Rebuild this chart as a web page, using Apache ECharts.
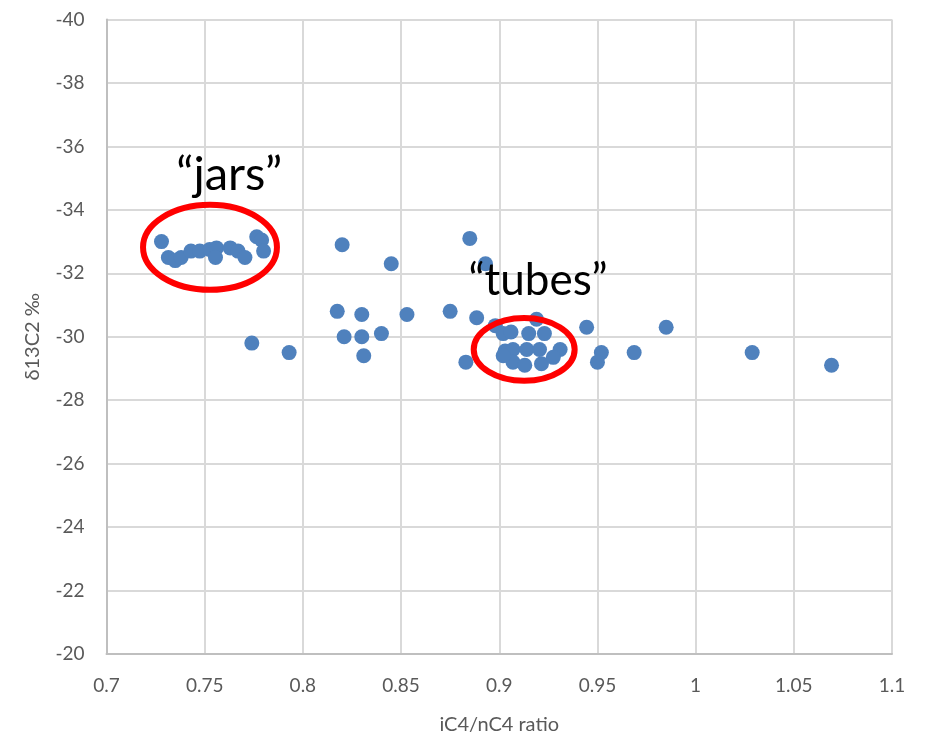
<!DOCTYPE html>
<html>
<head>
<meta charset="utf-8">
<script src="https://cdn.jsdelivr.net/npm/echarts@6/dist/echarts.min.js"></script>
<style>html,body{margin:0;padding:0;background:#fff}#c{width:926px;height:740px}</style>
</head>
<body>
<div id="c"></div>
<script>
// iC4/nC4 ratio values
const ratioValues = [
  0.728, 0.7315, 0.735, 0.738, 0.743, 0.7475, 0.7525, 0.756, 0.7555, 0.763, 0.767, 0.7705, 0.7765, 0.779, 0.780,
  0.820, 0.845, 0.885, 0.893,
  0.8175, 0.830, 0.853, 0.875, 0.8885, 0.898, 0.919, 0.9445,
  0.821, 0.830, 0.840, 0.831, 0.883, 0.774, 0.793,
  0.902, 0.906, 0.915, 0.923,
  0.903, 0.907, 0.914, 0.9205, 0.931,
  0.907, 0.913, 0.9215, 0.9275, 0.902,
  0.952, 0.950, 0.9687, 0.985, 1.0288, 1.0692
];
// δ13C2 values (‰)
const d13C2Values = [
  -33.0, -32.5, -32.4, -32.5, -32.7, -32.7, -32.75, -32.8, -32.5, -32.8, -32.7, -32.5, -33.15, -33.05, -32.7,
  -32.9, -32.3, -33.1, -32.3,
  -30.8, -30.7, -30.7, -30.8, -30.6, -30.35, -30.55, -30.3,
  -30.0, -30.0, -30.1, -29.4, -29.2, -29.8, -29.5,
  -30.1, -30.15, -30.1, -30.1,
  -29.55, -29.6, -29.6, -29.6, -29.6,
  -29.2, -29.1, -29.15, -29.35, -29.4,
  -29.5, -29.2, -29.5, -30.3, -29.5, -29.1
];
const xTicks = {min: 0.7, max: 1.1, step: 0.05};
const yTicks = {min: -40, max: -20, step: 2};
const annotations = [
  {label: '\u201cjars\u201d', textX: 0.7625, textY: -35.1, cx: 0.7527, cy: -32.82, rx: 0.0341, ry: 1.34, size: 47},
  {label: '\u201ctubes\u201d', textX: 0.9197, textY: -31.75, cx: 0.9127, cy: -29.6, rx: 0.0257, ry: 0.99, size: 44}
];

const points = ratioValues.map((x, i) => [x, d13C2Values[i]]);
const font = 'Lato, "Open Sans", sans-serif';
const chart = echarts.init(document.getElementById('c'), null, {renderer: 'canvas'});
chart.setOption({
  animation: false,
  backgroundColor: '#fff',
  grid: {left: 106.5, right: 34, top: 19.5, bottom: 85, containLabel: false},
  xAxis: {
    type: 'value', min: xTicks.min, max: xTicks.max, interval: xTicks.step,
    name: 'iC4/nC4 ratio', nameLocation: 'middle', nameGap: 61,
    nameTextStyle: {fontFamily: font, fontSize: 20, color: '#595959'},
    axisLine: {show: true, lineStyle: {color: '#bfbfbf', width: 2}},
    axisTick: {show: false},
    axisLabel: {fontFamily: font, fontSize: 19, color: '#595959', margin: 22,
      formatter: v => String(parseFloat(v.toFixed(2)))},
    splitLine: {show: true, lineStyle: {color: '#d9d9d9', width: 2}}
  },
  yAxis: {
    type: 'value', inverse: true, min: yTicks.min, max: yTicks.max, interval: yTicks.step,
    name: '\u03b413C2 \u2030', nameLocation: 'middle', nameGap: 64,
    nameTextStyle: {fontFamily: font, fontSize: 20, color: '#595959'},
    axisLine: {show: true, lineStyle: {color: '#bfbfbf', width: 2}},
    axisTick: {show: false},
    axisLabel: {fontFamily: font, fontSize: 19, color: '#595959', margin: 22},
    splitLine: {show: true, lineStyle: {color: '#d9d9d9', width: 2}}
  },
  series: [{
    type: 'scatter', data: points, symbolSize: 15,
    itemStyle: {color: '#4f81bd', opacity: 1}
  }]
});

const graphics = [];
annotations.forEach(a => {
  const c = chart.convertToPixel({gridIndex: 0}, [a.cx, a.cy]);
  const e = chart.convertToPixel({gridIndex: 0}, [a.cx + a.rx, a.cy + a.ry]);
  const t = chart.convertToPixel({gridIndex: 0}, [a.textX, a.textY]);
  graphics.push({
    type: 'ellipse', shape: {cx: c[0], cy: c[1], rx: Math.abs(e[0] - c[0]), ry: Math.abs(e[1] - c[1])},
    style: {fill: null, stroke: '#ff0000', lineWidth: 6}, z: 100
  });
  graphics.push({
    type: 'text', x: t[0], y: t[1],
    style: {text: a.label, fontFamily: font, fontSize: a.size, fill: '#000', align: 'center', verticalAlign: 'middle'},
    z: 101
  });
});
chart.setOption({graphic: graphics});
</script>
</body>
</html>
